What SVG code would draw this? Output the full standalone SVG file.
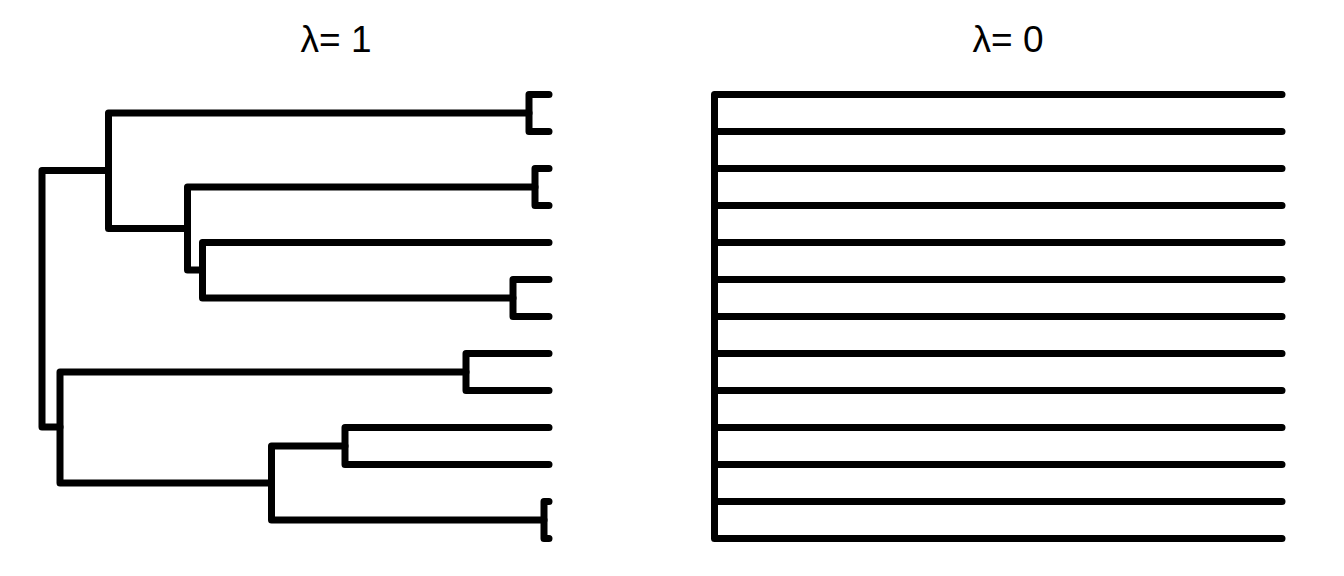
<svg xmlns="http://www.w3.org/2000/svg" width="1344" height="576" viewBox="0 0 1344 576">
<style>
.t{font-family:"Liberation Sans",Arial,sans-serif;font-size:37px;fill:#000;text-anchor:middle}
.e{fill:none;stroke:#000;stroke-width:7;stroke-linecap:round;stroke-linejoin:round}
</style>
<rect width="1344" height="576" fill="#fff"/>
<text class="t" x="336" y="52">λ= 1</text>
<text class="t" x="1008" y="52">λ= 0</text>
<g id="connectors">
<g id="tree1">
<path id="nA" class="e" d="M549 94.5H529V131.5H549"/>
<path id="nB" class="e" d="M549 168.5H535V205.5H549"/>
<path id="nC" class="e" d="M549 279.5H513V316.5H549"/>
<path id="nD" class="e" d="M549 242.5H202.5V298H513"/>
<path id="nE" class="e" d="M535 187H187.5V270H202.5"/>
<path id="nF" class="e" d="M529 113H108.5V228.5H187.5"/>
<path id="nG" class="e" d="M549 353.5H466V390.5H549"/>
<path id="nH" class="e" d="M549 427.5H345V464.5H549"/>
<path id="nI" class="e" d="M549 501.5H544V538.5H549"/>
<path id="nJ" class="e" d="M345 446H271.5V520H544"/>
<path id="nK" class="e" d="M466 372H60V483H271.5"/>
<path id="root1" class="e" d="M108.5 170.5H42V427H60"/>
</g>
<g id="tree2">
<path id="root2" class="e" d="M1282 94.5H714.5V538.5H1282"/>
<path class="e" d="M714.5 131.5H1282M714.5 168.5H1282M714.5 205.5H1282M714.5 242.5H1282M714.5 279.5H1282M714.5 316.5H1282M714.5 353.5H1282M714.5 390.5H1282M714.5 427.5H1282M714.5 464.5H1282M714.5 501.5H1282"/>
</g>
</g>
</svg>
